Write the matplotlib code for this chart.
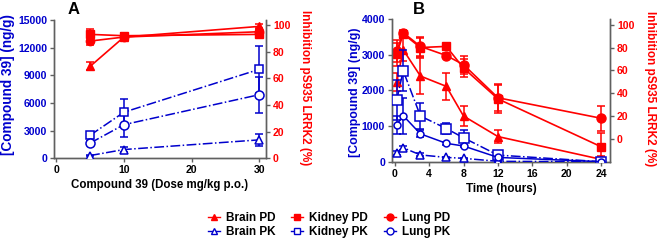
import matplotlib
matplotlib.use("Agg")
import matplotlib.pyplot as plt
from matplotlib.lines import Line2D

plt.rcParams['font.family'] = ['Liberation Sans', 'DejaVu Sans']
plt.rcParams['font.weight'] = 'bold'

RED = '#FF0000'
BLUE = '#0000CD'
SPINE = '#606060'

# ---------------- Panel A data (dose, mg/kg) ----------------
dose = [5, 10, 30]
a_brain_pd = [69, 91, 99]
a_brain_pd_err = [3, 3, 2]
a_kidney_pd = [93, 92, 93]
a_kidney_pd_err = [4, 2, 2]
a_lung_pd = [88, 91, 95]
a_lung_pd_err = [3, 2, 3]

a_brain_pk = [300, 950, 2000]
a_brain_pk_err = [60, 300, 650]
a_kidney_pk = [2500, 5000, 9650]
a_kidney_pk_err = [200, 1400, 2550]
a_lung_pk = [1650, 3650, 6900]
a_lung_pk_err = [200, 1300, 1950]

# ---------------- Panel B data (time, hours) ----------------
time_h = [0.25, 1, 3, 6, 8, 12, 24]
b_brain_pd = [50, 78, 55, 46, 20, 2, -18]
b_brain_pd_err = [8, 10, 16, 12, 9, 6, 3]
b_kidney_pd = [74, 92, 80, 81, 62, 35, -7]
b_kidney_pd_err = [10, 2, 8, 2, 8, 12, 12]
b_lung_pd = [77, 93, 81, 73, 65, 36, 18]
b_lung_pd_err = [10, 2, 8, 2, 8, 12, 11]

b_brain_pk = [235, 390, 190, 120, 95, 10, 0]
b_brain_pk_err = [60, 60, 40, 20, 20, 10, 0]
b_kidney_pk = [1730, 2550, 1280, 930, 670, 185, 0]
b_kidney_pk_err = [560, 570, 360, 160, 220, 50, 0]
b_lung_pk = [1040, 1290, 780, 515, 440, 120, 0]
b_lung_pk_err = [250, 500, 100, 40, 40, 30, 0]

fig = plt.figure(figsize=(6.57, 2.41), dpi=100)

axA = fig.add_axes([54/657, 1-158.3/241, 212/657, 138.3/241])
axB = fig.add_axes([392/657, 1-161.7/241, 218/657, 142.7/241])
axA2 = axA.twinx()
axB2 = axB.twinx()


def pd_plot(ax, x, y, e, marker, ms):
    ax.errorbar(x, y, yerr=e, color=RED, marker=marker, ms=ms, mfc=RED, mec=RED,
                lw=1.2, elinewidth=1.1, capsize=3, capthick=1.1, zorder=3)


def pk_plot(ax, x, y, e, marker, ms, ls):
    ax.errorbar(x, y, yerr=e, color=BLUE, marker=marker, ms=ms, mfc='white', mec=BLUE,
                mew=1.1, ls=ls, lw=1.1, elinewidth=1.1, capsize=3, capthick=1.1, zorder=3)


# Panel A
pk_plot(axA, dose, a_brain_pk, a_brain_pk_err, '^', 6, '-.')
pk_plot(axA, dose, a_kidney_pk, a_kidney_pk_err, 's', 5.5, '-.')
pk_plot(axA, dose, a_lung_pk, a_lung_pk_err, 'o', 6.5, '-.')
pd_plot(axA2, dose, a_brain_pd, a_brain_pd_err, '^', 6)
pd_plot(axA2, dose, a_kidney_pd, a_kidney_pd_err, 's', 6)
pd_plot(axA2, dose, a_lung_pd, a_lung_pd_err, 'o', 6)

# Panel B
pk_plot(axB, time_h, b_brain_pk, b_brain_pk_err, '^', 6, '-.')
pk_plot(axB, time_h, b_kidney_pk, b_kidney_pk_err, 's', 6.5, '-.')
pk_plot(axB, time_h, b_lung_pk, b_lung_pk_err, 'o', 5, '-')
pd_plot(axB2, time_h, b_brain_pd, b_brain_pd_err, '^', 6)
pd_plot(axB2, time_h, b_kidney_pd, b_kidney_pd_err, 's', 6)
pd_plot(axB2, time_h, b_lung_pd, b_lung_pd_err, 'o', 6.5)

axA.set_xlim(-0.34, 31)
axA.set_ylim(0, 15000)
axA2.set_ylim(0, 103.8)
axA.set_xticks([0, 10, 20, 30])
axA.set_yticks([0, 3000, 6000, 9000, 12000, 15000])
axA2.set_yticks([0, 20, 40, 60, 80, 100])

axB.set_xlim(-0.3, 25)
axB.set_ylim(0, 4000)
axB2.set_ylim(-20, 105)
axB.set_xticks([0, 4, 8, 12, 16, 20, 24])
axB.set_yticks([0, 1000, 2000, 3000, 4000])
axB2.set_yticks([0, 20, 40, 60, 80, 100])

for ax, ax2 in ((axA, axA2), (axB, axB2)):
    for a in (ax, ax2):
        a.spines['top'].set_visible(False)
        for s in ('left', 'right', 'bottom'):
            a.spines[s].set_color(SPINE)
            a.spines[s].set_linewidth(1.0)
    ax.set_zorder(ax2.get_zorder() + 1)
    ax.patch.set_visible(False)
    ax.tick_params(axis='y', colors=SPINE, labelcolor=BLUE, labelsize=7.6, length=3, width=1, pad=2)
    ax.tick_params(axis='x', colors=SPINE, labelcolor='black', labelsize=7.6, length=3, width=1, pad=2)
    ax2.tick_params(axis='y', colors=SPINE, labelcolor=RED, labelsize=7.6, length=3, width=1, pad=2)
    for lab in ax.get_xticklabels() + ax.get_yticklabels() + ax2.get_yticklabels():
        lab.set_fontweight('bold')
    ax2.set_ylabel('Inhibition pS935 LRRK2 (%)', color=RED, fontsize=8.5,
                   fontweight='bold', rotation=270, va='center')

axA.set_ylabel('[Compound 39] (ng/g)', color=BLUE, fontsize=9.8, fontweight='bold', va='center')
axB.set_ylabel('[Compound 39] (ng/g)', color=BLUE, fontsize=8.9, fontweight='bold', va='center')

axA.yaxis.set_label_coords((8-54)/212, 0.53)
axA2.yaxis.set_label_coords((305-54)/212, 0.51)
axB.yaxis.set_label_coords((355-392)/218, 0.485)
axB2.yaxis.set_label_coords((650-392)/218, 0.513)

axA.set_xlabel('Compound 39 (Dose mg/kg p.o.)', fontsize=8.3, fontweight='bold', labelpad=3)
axB.set_xlabel('Time (hours)', fontsize=8.4, fontweight='bold', labelpad=3)

fig.text(74/657, 1-10/241, 'A', fontsize=12, fontweight='bold', ha='center', va='center')
fig.text(419/657, 1-9/241, 'B', fontsize=12, fontweight='bold', ha='center', va='center')

handles = [
    Line2D([], [], color=RED, marker='^', ms=5, lw=1.0),
    Line2D([], [], color=BLUE, marker='^', ms=5, mfc='white', lw=1.0),
    Line2D([], [], color=RED, marker='s', ms=5, lw=1.0),
    Line2D([], [], color=BLUE, marker='s', ms=5, mfc='white', lw=1.0),
    Line2D([], [], color=RED, marker='o', ms=5, lw=1.0),
    Line2D([], [], color=BLUE, marker='o', ms=5, mfc='white', lw=1.0),
]
labels = ['Brain PD', 'Brain PK', 'Kidney PD', 'Kidney PK', 'Lung PD', 'Lung PK']
fig.legend(handles, labels, ncol=3, loc='center', bbox_to_anchor=(329/657, 1-225/241),
           frameon=False, handlelength=1.0, handletextpad=0.5,
           columnspacing=1.35, labelspacing=0.15, prop={'weight': 'bold', 'size': 8.5})

fig.savefig('out.png', dpi=100)
